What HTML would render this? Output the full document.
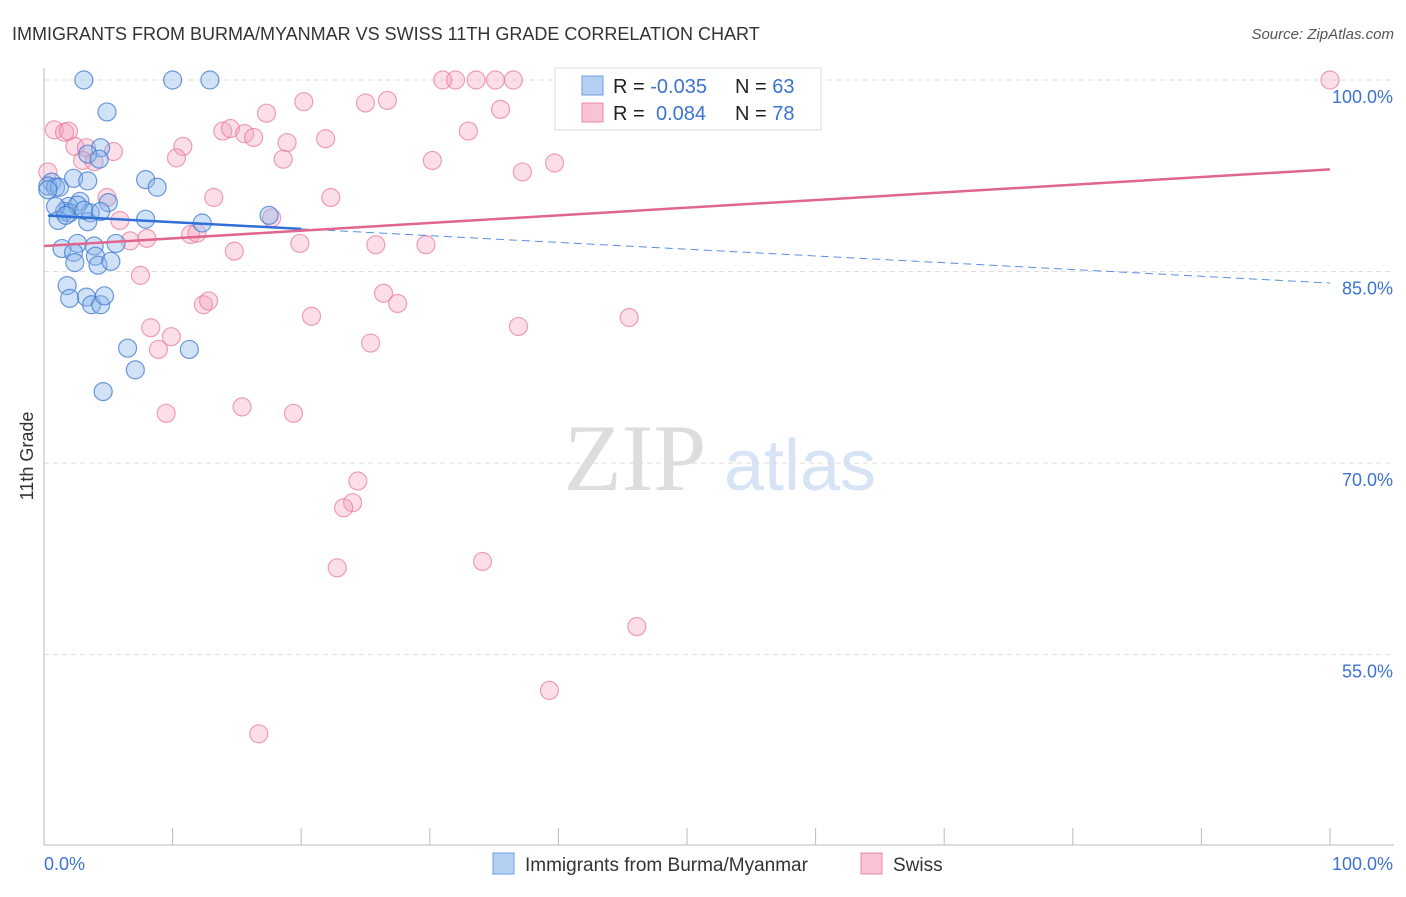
<!DOCTYPE html>
<html><head><meta charset="utf-8"><style>
body{margin:0;background:#fff;font-family:"Liberation Sans",sans-serif}
</style></head><body>
<svg id="chart" width="1406" height="892" xmlns="http://www.w3.org/2000/svg">
<text x="12" y="40" font-size="18" fill="#333">IMMIGRANTS FROM BURMA/MYANMAR VS SWISS 11TH GRADE CORRELATION CHART</text>
<text x="1394" y="39" font-size="15" fill="#555" font-style="italic" text-anchor="end">Source: ZipAtlas.com</text>
<text x="33" y="456" font-size="18" fill="#333" transform="rotate(-90 33 456)" text-anchor="middle">11th Grade</text>
<g><text x="635" y="490" font-size="95" fill="#ddd" font-family="Liberation Serif,serif" text-anchor="middle">ZIP</text><text x="800" y="490" font-size="72" fill="#d6e4f5" text-anchor="middle">atlas</text></g>
<g id="grid"></g><g id="axes"></g><g id="pts"></g><g id="trends"></g>
<g>
<rect x="555" y="68" width="266" height="62" fill="#fff" stroke="#ddd"/>
<rect x="582" y="76" width="21" height="19" fill="#b3cff2" stroke="#6d9fe0"/>
<rect x="582" y="103" width="21" height="19" fill="#f8c3d3" stroke="#e88aa8"/>
<text x="613" y="93" font-size="20" fill="#222">R = <tspan fill="#3b73d1">-0.035</tspan></text>
<text x="735" y="93" font-size="20" fill="#222">N = <tspan fill="#3b73d1">63</tspan></text>
<text x="613" y="120" font-size="20" fill="#222">R = <tspan fill="#3b73d1" x="656">0.084</tspan></text>
<text x="735" y="120" font-size="20" fill="#222">N = <tspan fill="#3b73d1">78</tspan></text>
</g>
<g>
<rect x="493" y="853" width="21" height="21" fill="#b3cff2" stroke="#6d9fe0"/>
<text x="525" y="871" font-size="19" fill="#333">Immigrants from Burma/Myanmar</text>
<rect x="861" y="853" width="21" height="21" fill="#f8c3d3" stroke="#e88aa8"/>
<text x="893" y="871" font-size="19" fill="#333">Swiss</text>
</g>
<text x="44" y="870" font-size="18" fill="#3b73d1">0.0%</text>
<text x="1393" y="870" font-size="18" fill="#3b73d1" text-anchor="end">100.0%</text>
</svg>
<script>
const yTicks=[100,85,70,55];
const yTickLabels=["100.0%","85.0%","70.0%","55.0%"];
const xTicks=[0,10,20,30,40,50,60,70,80,90,100];
const blueX=[3.1,10.0,12.9,4.9,4.4,3.4,4.3,7.9,8.8,0.6,0.3,0.9,1.2,2.3,3.4,2.8,1.9,1.6,2.0,0.9,1.1,3.6,3.4,7.9,12.3,17.5,1.4,2.6,2.3,2.4,3.9,4.0,4.2,5.2,5.6,1.8,2.0,3.3,3.7,4.4,4.7,6.5,11.3,7.1,4.6,0.3,5.0,2.6,1.7,3.1,4.4];
const blueY=[100,100,100,97.5,94.7,94.2,93.8,92.2,91.6,92.0,91.7,91.6,91.6,92.3,92.1,90.5,90.1,89.7,89.6,90.1,89.0,89.6,88.9,89.1,88.8,89.4,86.8,87.2,86.5,85.7,87.0,86.2,85.5,85.8,87.2,83.9,82.9,83.0,82.4,82.4,83.1,79.0,78.9,77.3,75.6,91.4,90.4,90.2,89.4,89.8,89.7];
const pinkX=[31.0,32.0,33.6,35.1,36.5,41.4,43.2,47.3,50.2,51.4,52.4,100,0.8,1.6,1.9,2.4,3.3,5.4,3.0,3.9,20.2,25.0,26.7,17.3,35.5,33.0,13.9,14.5,15.6,16.3,18.9,21.9,10.8,10.3,18.6,30.2,39.7,37.2,4.9,13.2,22.3,5.9,17.7,6.7,8.0,11.4,11.9,19.9,25.8,29.7,14.8,7.5,26.4,27.5,12.4,12.8,20.8,36.9,45.5,8.3,9.9,8.9,25.4,9.5,15.4,19.4,24.4,24.0,23.3,22.8,34.1,46.1,39.3,16.7,0.3];
const pinkY=[100,100,100,100,100,100,100,100,100,100,100,100,96.1,95.9,96.0,94.8,94.7,94.4,93.7,93.6,98.3,98.2,98.4,97.4,97.7,96.0,96.0,96.2,95.8,95.5,95.1,95.4,94.8,93.9,93.8,93.7,93.5,92.8,90.8,90.8,90.8,89.0,89.2,87.4,87.6,87.9,88.0,87.2,87.1,87.1,86.6,84.7,83.3,82.5,82.4,82.7,81.5,80.7,81.4,80.6,79.9,78.9,79.4,73.9,74.4,73.9,68.6,66.9,66.5,61.8,62.3,57.2,52.2,48.8,92.8];
const blueTrend=[89.4,84.1];
const pinkTrend=[87.0,93.0];
const NS="http://www.w3.org/2000/svg";
const X=v=>44+v*12.86, Y=v=>80+(100-v)*12.77;
function mk(t,a,p){const e=document.createElementNS(NS,t);for(const k in a)e.setAttribute(k,a[k]);document.getElementById(p).appendChild(e);return e;}
yTicks.forEach((t,i)=>{
 const l=mk('line',{x1:44,x2:1394,y1:Y(t),y2:Y(t),stroke:'#ddd','stroke-dasharray':'5,4'},'grid');
 
 
 const tx=mk('text',{x:1393,y:Y(t)+23,'font-size':18,fill:'#3b73d1','text-anchor':'end'},'grid');
 tx.textContent=yTickLabels[i];
 
 
});
const ax=mk('line',{x1:44,x2:1394,y1:845,y2:845,stroke:'#bbb'},'axes');


const ay=mk('line',{x1:44,x2:44,y1:68,y2:845,stroke:'#bbb'},'axes');


xTicks.forEach(t=>{
 const l=mk('line',{x1:X(t),x2:X(t),y1:828,y2:845,stroke:'#bbb'},'axes');
 
 
});
pinkX.forEach((v,i)=>{
 const c=mk('circle',{cx:X(v),cy:Y(pinkY[i]),r:9,fill:'rgba(244,160,188,0.35)',stroke:'rgba(232,120,158,0.7)','stroke-width':1.2},'pts');
 
 
});
blueX.forEach((v,i)=>{
 const c=mk('circle',{cx:X(v),cy:Y(blueY[i]),r:9,fill:'rgba(140,182,236,0.4)',stroke:'rgba(60,120,210,0.75)','stroke-width':1.2},'pts');
 
 
});
const bAt=x=>blueTrend[0]+(blueTrend[1]-blueTrend[0])*x/100;
const b1=mk('line',{x1:X(0.3),y1:Y(bAt(0.3)),x2:X(20),y2:Y(bAt(20)),stroke:'#2f6fd6','stroke-width':2.5},'trends');


const b2=mk('line',{x1:X(20),y1:Y(bAt(20)),x2:X(100),y2:Y(bAt(100)),stroke:'#5a8fe0','stroke-width':1,'stroke-dasharray':'8,5'},'trends');


const p1=mk('line',{x1:X(0),y1:Y(pinkTrend[0]),x2:X(100),y2:Y(pinkTrend[1]),stroke:'#e0668f','stroke-width':2.5},'trends');


</script>
</body></html>
